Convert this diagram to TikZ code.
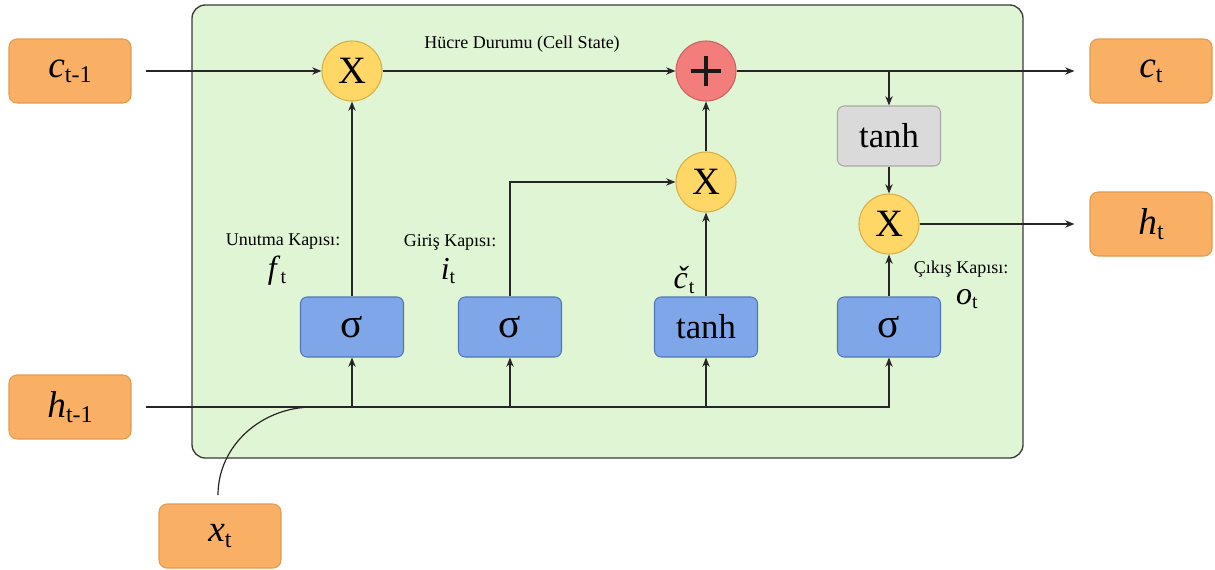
\documentclass[tikz,border=0pt]{standalone}
\usepackage{fontspec}
\setmainfont{Liberation Serif}
\usetikzlibrary{arrows.meta}
\definecolor{orangeF}{HTML}{F9B064}
\definecolor{orangeD}{HTML}{E39A4E}
\definecolor{greenF}{HTML}{E0F5D4}
\definecolor{greenD}{HTML}{3A3A3A}
\definecolor{blueF}{HTML}{7EA6E8}
\definecolor{blueD}{HTML}{5078B8}
\definecolor{yellowF}{HTML}{FED766}
\definecolor{yellowD}{HTML}{D8AE45}
\definecolor{redF}{HTML}{F27D7A}
\definecolor{redD}{HTML}{C96461}
\definecolor{grayF}{HTML}{DADADA}
\definecolor{grayD}{HTML}{A8A8A8}
\newcommand\vsub[2]{\textit{#1}\raisebox{-0.3ex}{\fontsize{18}{18}\selectfont #2}}
\newcommand\gsub[2]{\textit{#1}\raisebox{-0.3ex}{\fontsize{15}{15}\selectfont #2}}
\begin{document}
\begin{tikzpicture}[x=0.75pt,y=-0.75pt,
  io/.style={draw=orangeD, fill=orangeF, rounded corners=6pt, minimum width=91.5pt, minimum height=48pt, line width=0.8pt, inner sep=0pt, font=\fontsize{28}{28}\selectfont},
  gate/.style={draw=blueD, fill=blueF, rounded corners=5pt, minimum width=77.25pt, minimum height=45pt, line width=0.8pt, inner sep=0pt},
  op/.style={circle, draw=yellowD, fill=yellowF, minimum size=45pt, inner sep=0pt, line width=0.8pt, font=\fontsize{29}{29}\selectfont},
  lbl/.style={font=\fontsize{13.5}{15}\selectfont, inner sep=0pt},
  glbl/.style={font=\fontsize{24}{24}\selectfont, inner sep=0pt},
  conn/.style={line width=0.9pt, draw=black!85},
  arr/.style={conn, -{Stealth[length=7pt,width=5.5pt]}}
]
\useasboundingbox (0,0) rectangle (1215,569);
% cell background
\draw[fill=greenF, draw=greenD, line width=1pt, rounded corners=10pt] (192,5) rectangle (1023,458);
% inputs / outputs
\node[io] (cm1) at (70,71) {\vsub{c}{t-1}};
\node[io] (hm1) at (70,407) {\vsub{h}{t-1}};
\node[io] (xt) at (220,536) {\vsub{x}{t}};
\node[io] (ct) at (1151,71) {\vsub{c}{t}};
\node[io] (ht) at (1151,224) {\vsub{h}{t}};
% operators
\node[op] (m1) at (352,71) {X};
\node[op, draw=redD, fill=redF, path picture={
  \draw[line width=2.6pt, black!90] ([xshift=-11.5pt]path picture bounding box.center) -- ([xshift=11.5pt]path picture bounding box.center);
  \draw[line width=2.6pt, black!90] ([yshift=-11.5pt]path picture bounding box.center) -- ([yshift=11.5pt]path picture bounding box.center);}] (add) at (706,71) {};
\node[op] (m2) at (706,182) {X};
\node[op] (m3) at (889,224) {X};
% gates
\node[gate, font=\fontsize{31}{31}\selectfont] (s1) at (352,327) {σ};
\node[gate, font=\fontsize{31}{31}\selectfont] (s2) at (510,327) {σ};
\node[gate, font=\fontsize{26}{26}\selectfont] (tb) at (706,327) {tanh};
\node[gate, font=\fontsize{31}{31}\selectfont] (s3) at (889,327) {σ};
\node[gate, draw=grayD, fill=grayF, font=\fontsize{26}{26}\selectfont] (tg) at (889,136) {tanh};
% labels
\node[lbl] (lcs) at (522,44) {Hücre Durumu (Cell State)};
\node[lbl] (lf) at (283,242) {Unutma Kapısı:};
\node[glbl] (vf) at (277,271) {\gsub{f}{t}};
\node[lbl] (li) at (450,242) {Giriş Kapısı:};
\node[glbl] (vi) at (448,271) {\gsub{i}{t}};
\node[glbl] (vc) at (684,280) {\gsub{č}{t}};
\node[lbl] (lo) at (961,269) {Çıkış Kapısı:};
\node[glbl] (vo) at (967,299) {\gsub{o}{t}};
% coordinates
\coordinate (br) at (889,71);
\coordinate (hs) at ([xshift=10.5pt]hm1.east);
\coordinate (xs) at (218,495);
\coordinate (xj) at (313,407);
% cell state
\draw[arr] ([xshift=10.5pt]cm1.east) -- (m1);
\draw[arr] (m1) -- (add);
\draw[arr] (add) -- ([xshift=-11.25pt]ct.west);
\draw[arr] (br) -- (tg);
\draw[arr] (tg) -- (m3);
\draw[arr] (m3) -- ([xshift=-11.25pt]ht.west);
% gates up
\draw[arr] (s1) -- (m1);
\draw[arr] (s2.north) |- (m2.west);
\draw[arr] (tb) -- (m2);
\draw[arr] (m2) -- (add);
\draw[arr] (s3) -- (m3);
% hidden input bus
\draw[arr] (hs) -| (s3.south);
\draw[arr] (s1.south |- hs) -- (s1.south);
\draw[arr] (s2.south |- hs) -- (s2.south);
\draw[arr] (tb.south |- hs) -- (tb.south);
\draw[conn] (xs) .. controls (218,446) and (261,407) .. (xj);
\end{tikzpicture}
\end{document}
